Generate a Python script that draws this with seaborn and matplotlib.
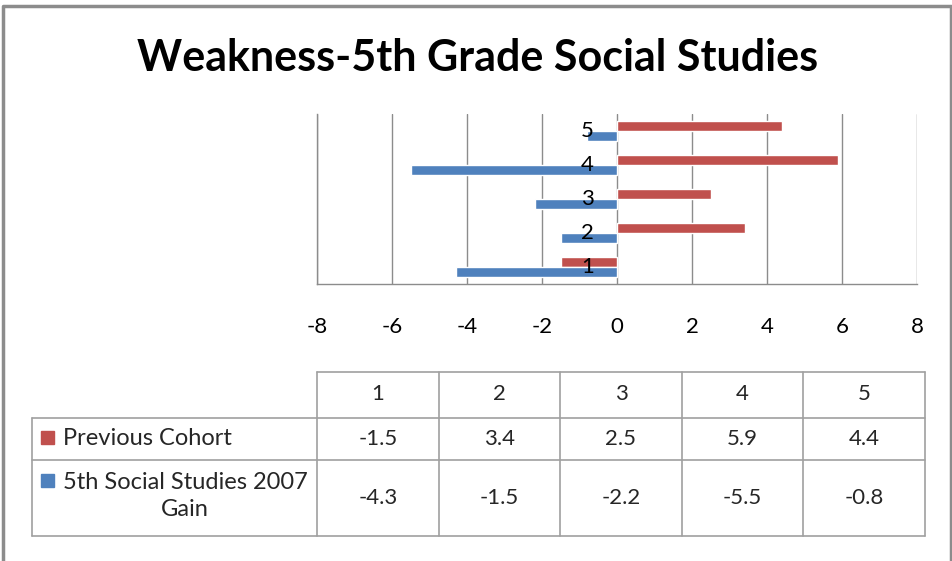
import pandas as pd
import numpy as np
import matplotlib.pyplot as plt
import seaborn as sns
from matplotlib.patches import Rectangle

# chart data
categories = ['1', '2', '3', '4', '5']
series_names = ['Previous Cohort', '5th Social Studies 2007 Gain']
previous_cohort = [-1.5, 3.4, 2.5, 5.9, 4.4]
gain_2007 = [-4.3, -1.5, -2.2, -5.5, -0.8]
x_ticks = [-8, -6, -4, -2, 0, 2, 4, 6, 8]

red = '#C0504D'
blue = '#4F81BD'
grid_gray = '#8C8C8C'

sns.set_style('white')
plt.rcParams['font.family'] = ['Lato', 'DejaVu Sans']
plt.rcParams['text.color'] = 'black'
plt.rcParams['xtick.color'] = 'black'

df = pd.DataFrame({
    'Category': categories * 2,
    'Series': [series_names[0]] * 5 + [series_names[1]] * 5,
    'Value': previous_cohort + gain_2007,
})

W, H = 953, 561
fig = plt.figure(figsize=(W / 100, H / 100), dpi=100)

# main bar axes (pixel box 317..917 x 114..284)
ax = fig.add_axes([317 / W, (H - 284) / H, 600 / W, 170 / H])
sns.barplot(data=df, x='Value', y='Category', hue='Series', order=categories[::-1],
            hue_order=series_names, palette=[red, blue], orient='h', width=0.56,
            saturation=1, legend=False, ax=ax, zorder=2)
ax.set_xlim(-8, 8)
ax.set_ylim(4.5, -0.5)
ax.set_xticks(x_ticks)
ax.set_xticklabels([str(t) for t in x_ticks], fontsize=16)
ax.set_yticks([])
ax.set_xlabel('')
ax.set_ylabel('')
ax.grid(axis='x', color=grid_gray, lw=1, zorder=0)
ax.set_axisbelow(True)
ax.tick_params(axis='x', length=0, pad=24)
for side in ['top', 'right']:
    ax.spines[side].set_visible(False)
for side in ['left', 'bottom']:
    ax.spines[side].set_color(grid_gray)
    ax.spines[side].set_linewidth(1)

# category labels sit next to the zero line, like Excel does
for i, c in enumerate(categories[::-1]):
    ax.text(-0.62, i, c, ha='right', va='center', fontsize=16, zorder=3)

# overlay in pixel coords for title, data table and border
ov = fig.add_axes([0, 0, 1, 1], zorder=-1)
ov.set_xlim(0, W)
ov.set_ylim(H, 0)
ov.axis('off')

ov.plot([3, 3, 951, 951], [H, 6, 6, H], color='#8C8C8C', lw=2.5)
ov.text(478, 58, 'Weakness-5th Grade Social Studies', ha='center', va='center',
        fontsize=31, fontweight='bold')

# data table
col_edges = [317, 438.6, 560.2, 681.8, 803.4, 925]
row_edges = [372, 418, 460, 536]
line_kw = dict(color='#A0A0A0', lw=1.2)
ov.plot([317, 925], [372, 372], **line_kw)
for y in row_edges[1:]:
    ov.plot([32, 925], [y, y], **line_kw)
for x in col_edges:
    ov.plot([x, x], [372, 536], **line_kw)
ov.plot([32, 32], [418, 536], **line_kw)

centers = [(col_edges[i] + col_edges[i + 1]) / 2 for i in range(5)]
for i, c in enumerate(categories):
    ov.text(centers[i], 394, c, ha='center', va='center', fontsize=16, color='#262626')
    ov.text(centers[i], 439, str(previous_cohort[i]), ha='center', va='center',
            fontsize=16, color='#262626')
    ov.text(centers[i], 498, str(gain_2007[i]), ha='center', va='center',
            fontsize=16, color='#262626')

ov.add_patch(Rectangle((41, 431), 13, 13, color=red))
ov.add_patch(Rectangle((41, 474), 13, 13, color=blue))
ov.text(63, 438, series_names[0], ha='left', va='center', fontsize=17, color='#262626')
ov.text(185, 496, '5th Social Studies 2007\nGain', ha='center', va='center',
        fontsize=17, multialignment='center', linespacing=1.35, color='#262626')

fig.savefig('out.png', dpi=100)
